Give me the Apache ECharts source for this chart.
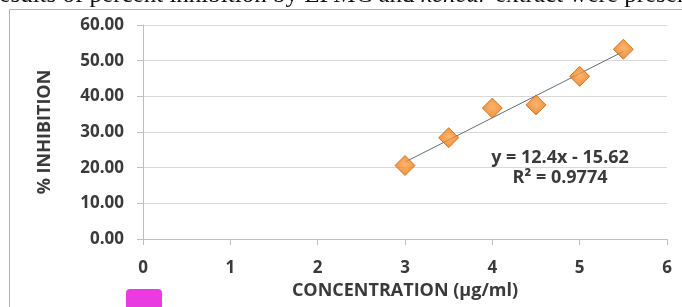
<!DOCTYPE html>
<html lang="en">
<head>
    <meta charset="UTF-8">
    <title>% Inhibition vs concentration</title>
    <script src="https://cdn.jsdelivr.net/npm/echarts@6/dist/echarts.min.js"></script>
    <style>
        html, body { margin: 0; padding: 0; background: #fff; }
        #chart { width: 682px; height: 307px; }
    </style>
</head>
<body>
    <div id="chart"></div>
    <script type="text/javascript">
        // data
        var concentration = [3, 3.5, 4, 4.5, 5, 5.5];
        var inhibition = [20.6, 28.4, 36.7, 37.6, 45.6, 53.2];
        // trendline as printed on the chart
        var slope = 12.4;
        var intercept = -15.62;
        var eqText = 'y = 12.4x - 15.62';
        var r2Text = 'R² = 0.9774';

        var points = concentration.map(function (x, i) { return [x, inhibition[i]]; });
        var x0 = concentration[0], x1 = concentration[concentration.length - 1];
        var trend = [[x0, slope * x0 + intercept], [x1, slope * x1 + intercept]];

        var labelFont = { fontFamily: 'Open Sans', fontWeight: 'bold', fontSize: 17, color: '#3a3a3a' };
        var titleFont = { fontFamily: 'Open Sans', fontWeight: 'bold', fontSize: 18, color: '#3a3a3a' };

        var myChart = echarts.init(document.getElementById('chart'));
        var option = {
            animation: false,
            grid: { left: 143, top: 25, width: 524, height: 214 },
            xAxis: {
                type: 'value', min: 0, max: 6, interval: 1,
                name: 'CONCENTRATION (µg/ml)',
                nameLocation: 'middle', nameGap: 40,
                nameTextStyle: titleFont,
                axisLine: { lineStyle: { color: '#bfbfbf' } },
                axisTick: { show: true, length: 6, lineStyle: { color: '#bfbfbf' } },
                axisLabel: Object.assign({ margin: 21 }, labelFont),
                splitLine: { show: false }
            },
            yAxis: {
                type: 'value', min: 0, max: 60, interval: 10,
                name: '% INHIBITION',
                nameLocation: 'middle', nameGap: 89, nameRotate: 90,
                nameTextStyle: titleFont,
                axisLine: { show: true, lineStyle: { color: '#bfbfbf' } },
                axisTick: { show: true, length: 6, lineStyle: { color: '#bfbfbf' } },
                axisLabel: Object.assign({ margin: 19, formatter: function (v) { return v.toFixed(2); } }, labelFont),
                splitLine: { lineStyle: { color: '#d9d9d9' } }
            },
            series: [{
                type: 'line',
                data: trend,
                symbol: 'none',
                lineStyle: { color: '#5f6e7e', width: 1 },
                z: 2
            }, {
                type: 'scatter',
                data: points,
                symbol: 'diamond',
                symbolSize: 20,
                itemStyle: {
                    color: new echarts.graphic.RadialGradient(0.5, 0.45, 0.6, [
                        { offset: 0, color: '#fca24a' },
                        { offset: 1, color: '#e46f08' }
                    ]),
                    borderColor: '#c9650c',
                    borderWidth: 1
                },
                z: 3
            }],
            graphic: [{
                type: 'rect',
                shape: { x: 9.5, y: 9.5, width: 700, height: 320 },
                style: { fill: 'none', stroke: '#b0b0b0', lineWidth: 1 },
                silent: true
            }, {
                type: 'text',
                left: -9, top: -17,
                style: {
                    text: 'results of percent inhibition by EPMC and {i|kencur} extract were presented',
                    fontFamily: 'Liberation Serif', fontSize: 25, fill: '#111',
                    rich: { i: { fontFamily: 'Liberation Serif', fontStyle: 'italic', fontSize: 25, color: '#111' } }
                }
            }, {
                type: 'text',
                x: 560, y: 158,
                style: {
                    text: eqText, align: 'center', verticalAlign: 'middle',
                    fontFamily: 'Open Sans', fontWeight: 'bold', fontSize: 18, fill: '#3a3a3a'
                }
            }, {
                type: 'text',
                x: 560, y: 178,
                style: {
                    text: r2Text, align: 'center', verticalAlign: 'middle',
                    fontFamily: 'Open Sans', fontWeight: 'bold', fontSize: 18, fill: '#3a3a3a'
                }
            }, {
                type: 'rect',
                shape: { x: 126, y: 289, width: 36, height: 24, r: 4 },
                style: { fill: '#e83ce0' },
                silent: true
            }]
        };
        myChart.setOption(option);
        window.onresize = myChart.resize;
    </script>
</body>
</html>
